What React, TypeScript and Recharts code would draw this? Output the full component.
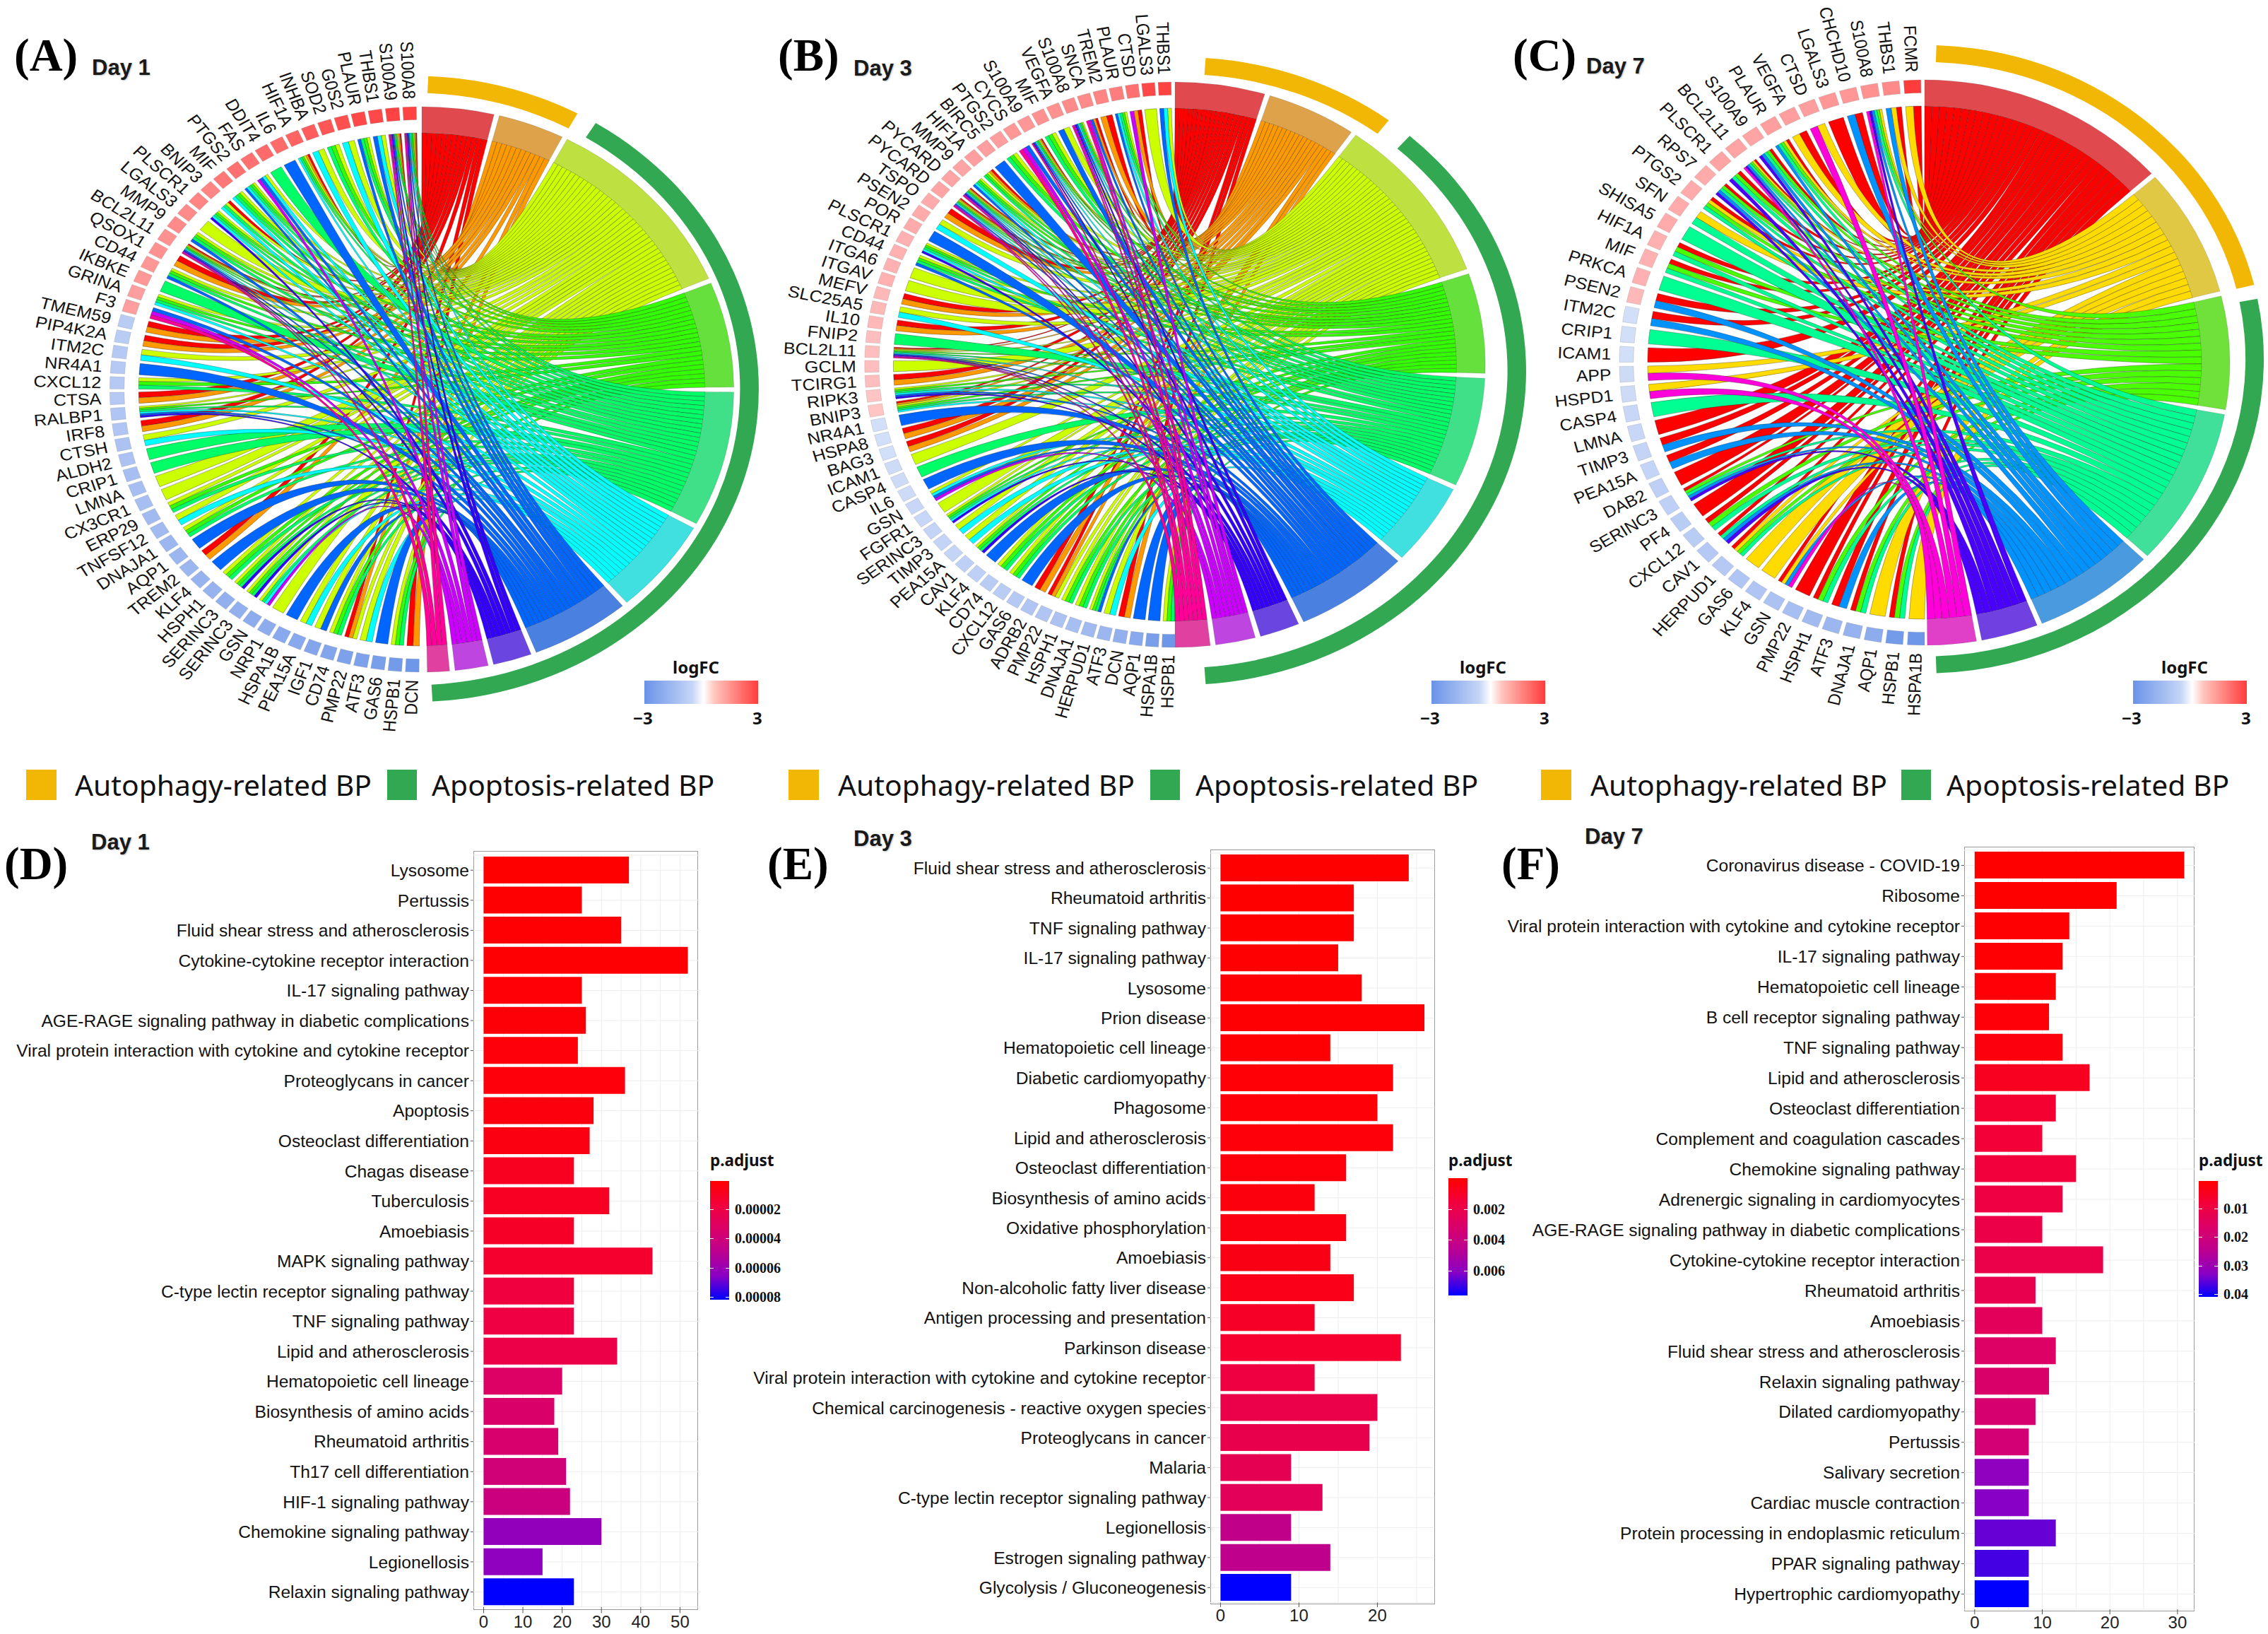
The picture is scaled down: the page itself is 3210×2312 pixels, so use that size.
import { BarChart, Bar, Cell, XAxis, YAxis, CartesianGrid, PieChart, Pie, Customized } from "recharts";

// ---- chord panels: genes, logFC, and the terms each gene links to (one letter per term)
const termCodes10 = "rolgscbimp";
const termCodes7 = "rygsbim";
const ribbonColors10 = ["#FF0000", "#FF9900", "#CCFF00", "#33FF00", "#00FF66", "#00FFFF", "#0066FF", "#3300FF", "#CC00FF", "#FF0099"];
const bandColors10 = ["#E04A4F", "#DEA24A", "#BEE040", "#66E03D", "#40E088", "#40E0E0", "#4A80E0", "#6A45E0", "#BF45E0", "#E040A0"];
const ribbonColors7 = ["#FF0000", "#FFDB00", "#49FF00", "#00FF92", "#0092FF", "#4900FF", "#FF00DB"];
const bandColors7 = ["#E04A4F", "#E0C845", "#70E03A", "#40E09A", "#4A9AE0", "#7040E0", "#E040C8"];

const genesA = ["S100A8", "S100A9", "THBS1", "PLAUR", "G0S2", "SOD2", "INHBA", "HIF1A", "IL6", "DDIT4", "FAS", "PTGS2", "MIF", "BNIP3", "PLSCR1", "LGALS3", "MMP9", "BCL2L11", "QSOX1", "CD44", "IKBKE", "GRINA", "F3", "TMEM59", "PIP4K2A", "ITM2C", "NR4A1", "CXCL12", "CTSA", "RALBP1", "IRF8", "CTSH", "ALDH2", "CRIP1", "LMNA", "CX3CR1", "ERP29", "TNFSF12", "DNAJA1", "AQP1", "TREM2", "KLF4", "HSPH1", "SERINC3", "SERINC3", "GSN", "NRP1", "HSPA1B", "PEA15A", "IGF1", "CD74", "PMP22", "ATF3", "GAS6", "HSPB1", "DCN"];
const linksA = ["rolgscbimp", "rolgsbimp", "lcb", "lgsb", "lc", "lgs", "lc", "rolgsc", "b", "s", "lcbm", "lgscb", "lgsc", "rlsc", "lgsci", "l", "lgsb", "rolgscbimp", "ro", "lgsb", "s", "lgsc", "bmp", "ro", "ro", "lc", "b", "lgs", "ro", "lgscbi", "ro", "lc", "s", "s", "l", "l", "lgs", "lc", "lgs", "b", "ro", "b", "lgs", "lgsi", "lgsi", "lscm", "l", "b", "lc", "lb", "lgs", "rol", "lc", "b", "lgs", "ro"];
const fcA = [2.9, 2.9, 2.8, 2.8, 2.7, 2.6, 2.5, 2.4, 2.3, 2.3, 2.2, 2.2, 2.1, 1.9, 1.9, 1.8, 1.8, 1.7, 1.7, 1.6, 1.6, 1.5, 1.5, -1.4, -1.4, -1.5, -1.5, -1.5, -1.5, -1.6, -1.6, -1.7, -1.7, -1.8, -1.8, -1.8, -1.9, -1.9, -2.0, -2.0, -2.0, -2.1, -2.1, -2.2, -2.2, -2.3, -2.3, -2.4, -2.4, -2.5, -2.5, -2.6, -2.6, -2.7, -2.8, -2.9];

const genesB = ["THBS1", "LGALS3", "CTSD", "PLAUR", "TREM2", "SNCA", "S100A8", "VEGFA", "MIF", "S100A9", "CYCS", "PTGS2", "BIRC5", "HIF1A", "MMP9", "PYCARD", "PYCARD", "TSPO", "PSEN2", "POR", "PLSCR1", "CD44", "ITGA6", "ITGAV", "MEFV", "SLC25A5", "IL10", "FNIP2", "BCL2L11", "GCLM", "TCIRG1", "RIPK3", "BNIP3", "NR4A1", "HSPA8", "BAG3", "ICAM1", "CASP4", "IL6", "GSN", "FGFR1", "SERINC3", "TIMP3", "PEA15A", "CAV1", "KLF4", "CD74", "CXCL12", "GAS6", "ADRB2", "PMP22", "HSPH1", "DNAJA1", "HERPUD1", "ATF3", "DCN", "AQP1", "HSPA1B", "HSPB1"];
const linksB = ["lcb", "l", "rom", "lgscb", "ro", "robmp", "lgscbimp", "lb", "lgs", "rolgscbip", "bmp", "lgs", "b", "rolgs", "lgscb", "rolgscbimp", "rolgscbmp", "ro", "lc", "b", "lgsci", "lgsb", "l", "l", "ro", "lc", "ro", "s", "rolgscbimp", "l", "ro", "lgscbi", "rolgsc", "b", "ro", "ro", "l", "s", "b", "lcbm", "l", "lgsci", "lc", "lc", "lgsi", "b", "lgs", "lgs", "b", "ro", "rol", "lgs", "lgs", "lgsb", "lc", "ro", "b", "b", "lgs"];
const fcB = [2.9, 2.8, 2.2, 2.0, 1.9, 1.8, 1.8, 1.7, 1.7, 1.6, 1.6, 1.5, 1.5, 1.5, 1.4, 1.4, 1.4, 1.3, 1.3, 1.3, 1.2, 1.2, 1.2, 1.2, 1.1, 1.1, 1.1, 1.0, 1.0, 1.0, 1.0, 0.9, 0.9, -0.9, -0.9, -0.9, -1.0, -1.0, -1.0, -1.1, -1.1, -1.2, -1.2, -1.2, -1.3, -1.3, -1.4, -1.4, -1.5, -1.6, -1.6, -1.7, -1.8, -1.9, -2.0, -2.2, -2.4, -2.7, -2.9];

const genesC = ["FCMR", "THBS1", "S100A8", "CHCHD10", "LGALS3", "CTSD", "VEGFA", "PLAUR", "S100A9", "BCL2L11", "PLSCR1", "RPS7", "PTGS2", "SFN", "SHISA5", "HIF1A", "MIF", "PRKCA", "PSEN2", "ITM2C", "CRIP1", "ICAM1", "APP", "HSPD1", "CASP4", "LMNA", "TIMP3", "PEA15A", "DAB2", "SERINC3", "PF4", "CXCL12", "CAV1", "HERPUD1", "GAS6", "KLF4", "GSN", "PMP22", "HSPH1", "ATF3", "DNAJA1", "AQP1", "HSPB1", "HSPA1B"];
const linksC = ["ry", "ryb", "ygsbim", "rb", "r", "ym", "ry", "rygsb", "rgsbi", "rygsbim", "rgsi", "rgsbi", "rygs", "ys", "s", "rgs", "rgs", "s", "rb", "rb", "s", "r", "ym", "ym", "s", "r", "rb", "rb", "r", "rgsbi", "r", "rgs", "rsbi", "rygs", "y", "y", "rybm", "r", "rgs", "rb", "rgs", "y", "rgs", "y"];
const fcC = [3.0, 1.8, 1.7, 1.6, 1.6, 1.5, 1.5, 1.5, 1.4, 1.4, 1.4, 1.3, 1.3, 1.3, 1.3, 1.2, 1.2, 1.2, 1.1, -0.9, -0.9, -0.9, -1.0, -1.0, -1.1, -1.1, -1.2, -1.2, -1.3, -1.3, -1.4, -1.4, -1.5, -1.5, -1.6, -1.6, -1.7, -1.8, -1.9, -2.0, -2.1, -2.3, -2.8, -2.9];

// ---- bar panels
const namesD = ["Lysosome", "Pertussis", "Fluid shear stress and atherosclerosis", "Cytokine-cytokine receptor interaction", "IL-17 signaling pathway", "AGE-RAGE signaling pathway in diabetic complications", "Viral protein interaction with cytokine and cytokine receptor", "Proteoglycans in cancer", "Apoptosis", "Osteoclast differentiation", "Chagas disease", "Tuberculosis", "Amoebiasis", "MAPK signaling pathway", "C-type lectin receptor signaling pathway", "TNF signaling pathway", "Lipid and atherosclerosis", "Hematopoietic cell lineage", "Biosynthesis of amino acids", "Rheumatoid arthritis", "Th17 cell differentiation", "HIF-1 signaling pathway", "Chemokine signaling pathway", "Legionellosis", "Relaxin signaling pathway"];
const countsD = [37, 25, 35, 52, 25, 26, 24, 36, 28, 27, 23, 32, 23, 43, 23, 23, 34, 20, 18, 19, 21, 22, 30, 15, 23];
const padjD = [0.0000005, 0.000001, 0.0000012, 0.0000015, 0.000002, 0.0000025, 0.000003, 0.0000035, 0.000004, 0.000005, 0.000009, 0.00001, 0.000011, 0.000013, 0.000018, 0.000019, 0.000021, 0.000032, 0.000034, 0.000035, 0.000039, 0.000042, 0.000063, 0.000064, 0.000082];
const padTicksD = ["0.00002", "0.00004", "0.00006", "0.00008"];

const namesE = ["Fluid shear stress and atherosclerosis", "Rheumatoid arthritis", "TNF signaling pathway", "IL-17 signaling pathway", "Lysosome", "Prion disease", "Hematopoietic cell lineage", "Diabetic cardiomyopathy", "Phagosome", "Lipid and atherosclerosis", "Osteoclast differentiation", "Biosynthesis of amino acids", "Oxidative phosphorylation", "Amoebiasis", "Non-alcoholic fatty liver disease", "Antigen processing and presentation", "Parkinson disease", "Viral protein interaction with cytokine and cytokine receptor", "Chemical carcinogenesis - reactive oxygen species", "Proteoglycans in cancer", "Malaria", "C-type lectin receptor signaling pathway", "Legionellosis", "Estrogen signaling pathway", "Glycolysis / Gluconeogenesis"];
const countsE = [24, 17, 17, 15, 18, 26, 14, 22, 20, 22, 16, 12, 16, 14, 17, 12, 23, 12, 20, 19, 9, 13, 9, 14, 9];
const padjE = [0.00001, 0.00003, 0.00004, 0.00005, 0.00008, 0.0001, 0.00012, 0.00015, 0.0002, 0.00025, 0.0003, 0.00035, 0.00045, 0.00055, 0.00065, 0.001, 0.0012, 0.0017, 0.002, 0.0021, 0.0023, 0.0025, 0.0043, 0.0044, 0.0076];
const padTicksE = ["0.002", "0.004", "0.006"];

const namesF = ["Coronavirus disease - COVID-19", "Ribosome", "Viral protein interaction with cytokine and cytokine receptor", "IL-17 signaling pathway", "Hematopoietic cell lineage", "B cell receptor signaling pathway", "TNF signaling pathway", "Lipid and atherosclerosis", "Osteoclast differentiation", "Complement and coagulation cascades", "Chemokine signaling pathway", "Adrenergic signaling in cardiomyocytes", "AGE-RAGE signaling pathway in diabetic complications", "Cytokine-cytokine receptor interaction", "Rheumatoid arthritis", "Amoebiasis", "Fluid shear stress and atherosclerosis", "Relaxin signaling pathway", "Dilated cardiomyopathy", "Pertussis", "Salivary secretion", "Cardiac muscle contraction", "Protein processing in endoplasmic reticulum", "PPAR signaling pathway", "Hypertrophic cardiomyopathy"];
const countsF = [31, 21, 14, 13, 12, 11, 13, 17, 12, 10, 15, 13, 10, 19, 9, 10, 12, 11, 9, 8, 8, 8, 12, 8, 8];
const padjF = [0.0003, 0.0005, 0.0006, 0.0008, 0.001, 0.0012, 0.002, 0.0045, 0.007, 0.008, 0.0085, 0.0095, 0.0105, 0.011, 0.012, 0.014, 0.016, 0.017, 0.018, 0.019, 0.032, 0.033, 0.035, 0.037, 0.041];
const padTicksF = ["0.01", "0.02", "0.03", "0.04"];

const padStops = ["#FF0000", "#F2003C", "#DB0068", "#BC0090", "#8A00C4", "#0000FF"];

const hex = (c: string) => [1, 3, 5].map((i) => parseInt(c.slice(i, i + 2), 16));
const mix = (a: string, b: string, t: number) => {
  const x = hex(a);
  const y = hex(b);
  return `rgb(${x.map((v, i) => Math.round(v + (y[i] - v) * t)).join(",")})`;
};
const padColor = (t: number) => {
  const s = Math.min(t, 0.9999) * (padStops.length - 1);
  const i = Math.floor(s);
  return mix(padStops[i], padStops[i + 1], s - i);
};
const fcColor = (v: number) => (v >= 0 ? mix("#FFFFFF", "#FF3C3C", v / 3) : mix("#FFFFFF", "#6A93E8", -v / 3));

// same sweep as the Pie does, so the ribbons land on the sectors
const sweep = (values: number[], start: number, end: number, pad: number) => {
  const sign = Math.sign(end - start);
  const total = values.reduce((a, b) => a + b, 0);
  const real = Math.abs(end - start) - (values.length - 1) * pad;
  let cur = start;
  return values.map((v) => {
    const a = cur;
    const b = a + (sign * real * v) / total;
    cur = b + sign * pad;
    return [a, b];
  });
};

const SIZE = 1100;
const MID = SIZE / 2;
const pt = (r: number, deg: number) => {
  const a = (deg * Math.PI) / 180;
  return `${MID + r * Math.cos(a)} ${MID - r * Math.sin(a)}`;
};

const Ribbons = ({ links, codes, colors, geneAngles, termAngles, counts, r }: any) => {
  const paths: any[] = [];
  codes.split("").forEach((code: string, ti: number) => {
    const [t0, t1] = termAngles[ti];
    const step = (t1 - t0) / counts[ti];
    let n = 0;
    links.forEach((row: string, gi: number) => {
      const k = row.indexOf(code);
      if (k < 0) return;
      const [g0, g1] = geneAngles[gi];
      const gs = (g1 - g0) / row.length;
      const a0 = t0 + n * step;
      const a1 = a0 + step;
      const b0 = g0 + k * gs;
      const b1 = b0 + gs;
      n += 1;
      paths.push(
        <path
          key={`${ti}-${gi}`}
          d={`M${pt(r, a0)} Q${MID} ${MID} ${pt(r, b0)} A${r} ${r} 0 0 0 ${pt(r, b1)} Q${MID} ${MID} ${pt(r, a1)} A${r} ${r} 0 0 0 ${pt(r, a0)} Z`}
          fill={colors[ti]}
          stroke="#222"
          strokeOpacity={0.65}
          strokeWidth={0.5}
        />
      );
    });
  });
  return <g>{paths}</g>;
};

const geneLabel = (p: any) => {
  const r = p.outerRadius + 11;
  const a = (p.midAngle * Math.PI) / 180;
  const x = p.cx + r * Math.cos(a);
  const y = p.cy - r * Math.sin(a);
  return (
    <text
      x={x}
      y={y}
      dy={8}
      textAnchor="end"
      transform={`rotate(${180 - p.midAngle} ${x} ${y})`}
      fontFamily="Liberation Sans"
      fontSize={23}
      fill="#111"
    >
      {p.payload?.name ?? p.name}
    </text>
  );
};

const ChordPanel = ({ x, y, k, genes, links, fc, codes, colors, bands, geneSpan, genePad, termEnd, arc }: any) => {
  const counts = codes.split("").map((c: string) => links.filter((l: string) => l.includes(c)).length);
  const autoCount = counts[0] + counts[1];
  const apoCount = counts.slice(2).reduce((a: number, b: number) => a + b, 0);
  const geneData = genes.map((name: string, i: number) => ({ name, value: 1, fc: fc[i] }));
  const termData = counts.map((value: number, i: number) => ({ name: codes[i], value }));
  const arcData = [
    { name: "Autophagy-related BP", value: autoCount },
    { name: "Apoptosis-related BP", value: apoCount },
  ];
  const termPad = 1;
  const geneAngles = sweep(geneData.map((d: any) => d.value), geneSpan[0], geneSpan[1], genePad);
  const termAngles = sweep(counts, 90, termEnd, termPad);
  return (
    <div style={{ position: "absolute", left: x - MID, top: y - MID, width: SIZE, height: SIZE, transform: `scaleX(${k})`, transformOrigin: "center" }}>
      <PieChart width={SIZE} height={SIZE} margin={{ top: 0, right: 0, bottom: 0, left: 0 }}>
        <Customized component={<Ribbons links={links} codes={codes} colors={colors} geneAngles={geneAngles} termAngles={termAngles} counts={counts} r={363} />} />
        <Pie data={termData} dataKey="value" nameKey="name" cx={MID} cy={MID} innerRadius={363} outerRadius={400} startAngle={90} endAngle={termEnd} paddingAngle={termPad} stroke="#555" strokeOpacity={0.35} strokeWidth={0.5} isAnimationActive={false}>
          {termData.map((d: any, i: number) => (
            <Cell key={d.name} fill={bands[i]} />
          ))}
        </Pie>
        <Pie data={geneData} dataKey="value" nameKey="name" cx={MID} cy={MID} innerRadius={381.5} outerRadius={400} startAngle={geneSpan[0]} endAngle={geneSpan[1]} paddingAngle={genePad} stroke="#888" strokeOpacity={0.5} strokeWidth={0.5} label={geneLabel} labelLine={false} isAnimationActive={false}>
          {geneData.map((d: any, i: number) => (
            <Cell key={i} fill={fcColor(d.fc)} />
          ))}
        </Pie>
        <Pie data={arcData} dataKey="value" nameKey="name" cx={MID + arc.dx} cy={MID + arc.dy} innerRadius={arc.r - 24} outerRadius={arc.r} startAngle={arc.start} endAngle={arc.end} paddingAngle={arc.pad} stroke="none" isAnimationActive={false}>
          <Cell fill="#F2B705" />
          <Cell fill="#33A852" />
        </Pie>
      </PieChart>
    </div>
  );
};

const BarPanel = ({ names, counts, padj, domain, ticks, grid, px0, px1, py0, py1, bandTop, bandStep, labelW }: any) => {
  const lo = Math.min(...padj);
  const hi = Math.max(...padj);
  const data = names.map((name: string, i: number) => ({ name, count: counts[i], p: padj[i] }));
  const plotH = bandStep * names.length;
  return (
    <>
      <div style={{ position: "absolute", left: px0, top: py0, width: px1 - px0, height: py1 - py0, border: "1.5px solid #9a9a9a", boxSizing: "border-box" }} />
      <div style={{ position: "absolute", left: px0 - labelW, top: bandTop - 2 }}>
        <BarChart width={labelW + px1 - px0} height={plotH + 52} data={data} layout="vertical" margin={{ top: 2, right: 0, bottom: 0, left: 0 }}>
          <CartesianGrid stroke="#ededed" strokeWidth={1} verticalValues={grid} />
          <XAxis
            type="number"
            dataKey="count"
            domain={domain}
            ticks={ticks}
            allowDataOverflow
            interval={0}
            height={50}
            axisLine={false}
            tickLine={{ stroke: "#555" }}
            tickSize={py1 - bandTop - plotH + 4}
            tickMargin={3}
            tick={{ fontSize: 24, fontFamily: "Liberation Sans", fill: "#222" }}
          />
          <YAxis
            type="category"
            dataKey="name"
            width={labelW}
            interval={0}
            axisLine={false}
            tickLine={{ stroke: "#555" }}
            tickSize={4}
            tickMargin={2}
            tick={{ fontSize: 24.6, fontFamily: "Liberation Sans", fill: "#111" }}
          />
          <Bar dataKey="count" barSize={38} isAnimationActive={false}>
            {data.map((d: any, i: number) => (
              <Cell key={i} fill={padColor((d.p - lo) / (hi - lo))} />
            ))}
          </Bar>
        </BarChart>
      </div>
    </>
  );
};

const Tag = ({ x, y, size, family, bold, color, children, extra }: any) => (
  <div style={{ position: "absolute", left: x, top: y, transform: "translateY(-50%)", fontSize: size, lineHeight: 1, fontFamily: family, fontWeight: bold ? 700 : 400, color: color ?? "#111", whiteSpace: "nowrap", ...extra }}>
    {children}
  </div>
);

const PanelTitle = ({ x, y, letter }: any) => <Tag x={x} y={y} size={65} family="Liberation Serif" bold color="#000">{letter}</Tag>;
const DayTitle = ({ x, y, text }: any) => <Tag x={x} y={y} size={31} family="Liberation Sans" bold color="#1a1a1a" extra={{ textShadow: "1px 1px 2px #bbb" }}>{text}</Tag>;

const LegendRow = ({ a, b, c, d }: any) => (
  <>
    <div style={{ position: "absolute", left: a, top: 1089, width: 43, height: 43, background: "#F2B705" }} />
    <Tag x={b} y={1110} size={40.8} family="Noto Sans" color="#111">Autophagy-related BP</Tag>
    <div style={{ position: "absolute", left: c, top: 1089, width: 42, height: 43, background: "#33A852" }} />
    <Tag x={d} y={1110} size={40.8} family="Noto Sans" color="#111">Apoptosis-related BP</Tag>
  </>
);

const FcLegend = ({ x }: any) => (
  <>
    <Tag x={x + 40} y={944} size={24} family="Noto Sans" bold>logFC</Tag>
    <div style={{ position: "absolute", left: x, top: 963, width: 161, height: 33, background: "linear-gradient(to right, #6A93E8, #C5D5F6 42%, #FFFFFF 52%, #FFC4BC 62%, #FF3C3C)" }} />
    <Tag x={x - 16} y={1016} size={24} family="Noto Sans" bold>−3</Tag>
    <Tag x={x + 153} y={1016} size={24} family="Noto Sans" bold>3</Tag>
  </>
);

const PadLegend = ({ x, y, h, ticks, padj, titleY }: any) => {
  const lo = Math.min(...padj);
  const hi = Math.max(...padj);
  return (
    <>
      <Tag x={x} y={titleY} size={22.5} family="Noto Sans" bold>p.adjust</Tag>
      <div style={{ position: "absolute", left: x, top: y, width: 27, height: h, background: `linear-gradient(to bottom, ${padStops.join(",")})` }} />
      {ticks.map((t: string) => {
        const ty = y + (h * (Number(t) - lo)) / (hi - lo);
        return (
          <div key={t}>
            <div style={{ position: "absolute", left: x, top: ty, width: 5, height: 1, background: "#fff" }} />
            <div style={{ position: "absolute", left: x + 22, top: ty, width: 5, height: 1, background: "#fff" }} />
            <Tag x={x + 35} y={ty} size={20} family="Liberation Serif" bold>{t}</Tag>
          </div>
        );
      })}
    </>
  );
};

export default function App() {
  return (
    <div style={{ position: "absolute", left: 0, top: 0, width: 3210, height: 2312, overflow: "hidden", background: "#fff" }}>
      <ChordPanel x={597} y={550.5} k={1.104} genes={genesA} links={linksA} fc={fcA} codes={termCodes10} colors={ribbonColors10} bands={bandColors10} geneSpan={[91, 269.5]} genePad={0.68} termEnd={-89} arc={{ dx: -11, dy: -0.7, r: 443, start: 87.5, end: -86.8, pad: 3.5 }} />
      <ChordPanel x={1663} y={515.5} k={1.098} genes={genesB} links={linksB} fc={fcB} codes={termCodes10} colors={ribbonColors10} bands={bandColors10} geneSpan={[90.7, 270]} genePad={0.62} termEnd={-90} arc={{ dx: 8.6, dy: 9, r: 444, start: 86, end: -86, pad: 4.5 }} />
      <ChordPanel x={2723.8} y={513.4} k={1.08} genes={genesC} links={linksC} fc={fcC} codes={termCodes7} colors={ribbonColors7} bands={bandColors7} geneSpan={[90.7, 270]} genePad={0.85} termEnd={-89.5} arc={{ dx: 0, dy: -4.8, r: 444.5, start: 88, end: -88, pad: 2.6 }} />

      <PanelTitle x={20} y={78} letter="(A)" />
      <DayTitle x={130} y={95} text="Day 1" />
      <PanelTitle x={1101} y={78} letter="(B)" />
      <DayTitle x={1208} y={96} text="Day 3" />
      <PanelTitle x={2141} y={78} letter="(C)" />
      <DayTitle x={2245} y={93} text="Day 7" />

      <FcLegend x={912} />
      <FcLegend x={2026} />
      <FcLegend x={3019} />

      <LegendRow a={37} b={106} c={548} d={611} />
      <LegendRow a={1116} b={1186} c={1628} d={1692} />
      <LegendRow a={2181} b={2251} c={2691} d={2755} />

      <PanelTitle x={6} y={1222} letter="(D)" />
      <DayTitle x={129} y={1191} text="Day 1" />
      <PanelTitle x={1086} y={1222} letter="(E)" />
      <DayTitle x={1208} y={1186} text="Day 3" />
      <PanelTitle x={2125} y={1222} letter="(F)" />
      <DayTitle x={2243} y={1183} text="Day 7" />

      <BarPanel names={namesD} counts={countsD} padj={padjD} domain={[-2.6, 54.6]} ticks={[0, 10, 20, 30, 40, 50]} grid={[0, 5, 10, 15, 20, 25, 30, 35, 40, 45, 50]} px0={670} px1={988} py0={1204} py1={2278} bandTop={1209.5} bandStep={42.55} labelW={660} />
      <BarPanel names={namesE} counts={countsE} padj={padjE} domain={[-1.3, 27.3]} ticks={[0, 10, 20]} grid={[0, 5, 10, 15, 20, 25]} px0={1713} px1={2030.5} py0={1202} py1={2270} bandTop={1207} bandStep={42.42} labelW={650} />
      <BarPanel names={namesF} counts={countsF} padj={padjF} domain={[-1.55, 32.55]} ticks={[0, 10, 20, 30]} grid={[0, 5, 10, 15, 20, 25, 30]} px0={2779.5} px1={3105.8} py0={1198} py1={2280} bandTop={1202.8} bandStep={42.96} labelW={655} />

      <PadLegend x={1005} y={1671} h={168} ticks={padTicksD} padj={padjD} titleY={1642} />
      <PadLegend x={2050} y={1667} h={166} ticks={padTicksE} padj={padjE} titleY={1642} />
      <PadLegend x={3112} y={1671} h={164} ticks={padTicksF} padj={padjF} titleY={1642} />
    </div>
  );
}
